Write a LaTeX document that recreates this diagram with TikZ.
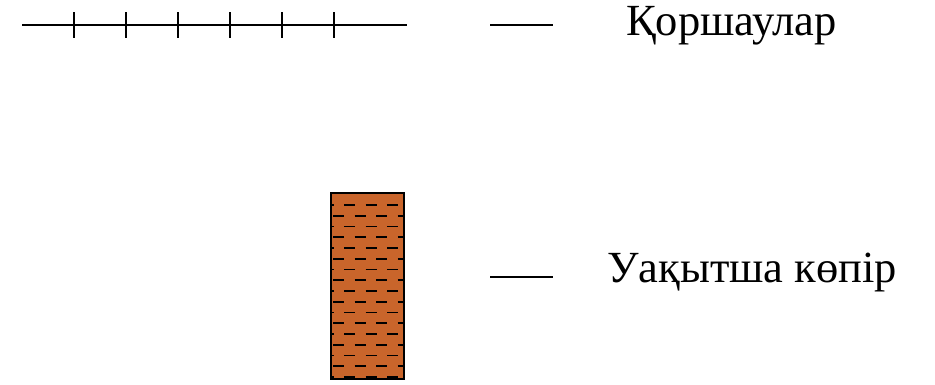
\documentclass[tikz,border=0pt]{standalone}
\usepackage{fontspec}
\setmainfont{Liberation Serif}
\definecolor{bridgefill}{RGB}{201,101,43}

\begin{document}
\begin{tikzpicture}[x=1pt,y=-1pt,
  fence/.style={line width=1.4pt},
  post/.style={line width=2.2pt},
  legendline/.style={line width=1.2pt},
  plank/.style={line width=1.8pt},
  legendtext/.style={anchor=base west,inner sep=0pt,font=\fontsize{44.5}{50}\selectfont}]
  \useasboundingbox (0,0) rectangle (935,384);

  \coordinate (fenceL) at (22,25);
  \coordinate (fenceR) at (407,25);
  \draw[fence] (fenceL) -- (fenceR);
  \foreach \x in {74,126,...,334}
    \draw[post] (\x,12) -- (\x,38);

  \begin{scope}
  \clip (331,193) rectangle (404,379);
  \fill[bridgefill] (331,193) rectangle (404,379);
  \foreach \i in {0,...,16} {
    \pgfmathsetmacro{\yy}{205+10.75*\i}
    \pgfmathsetmacro{\xs}{ifthenelse(mod(\i,2)==0,322.5,333)}
    \foreach \k in {0,...,4}
      \draw[plank] ({\xs+21.5*\k},\yy) -- ({\xs+21.5*\k+11},\yy);
  }
  \end{scope}
  \draw[line width=2pt] (331,193) rectangle (404,379);

  \coordinate (keyA1) at (490,25);
  \coordinate (keyA2) at (553,25);
  \draw[legendline] (keyA1) -- (keyA2);
  \node[legendtext] (fencetext) at (626,35) {Қоршаулар};

  \coordinate (keyB1) at (490,277);
  \coordinate (keyB2) at (553,277);
  \draw[legendline] (keyB1) -- (keyB2);
  \node[legendtext] (bridgetext) at (607,282) {Уақытша көпір};
\end{tikzpicture}
\end{document}
